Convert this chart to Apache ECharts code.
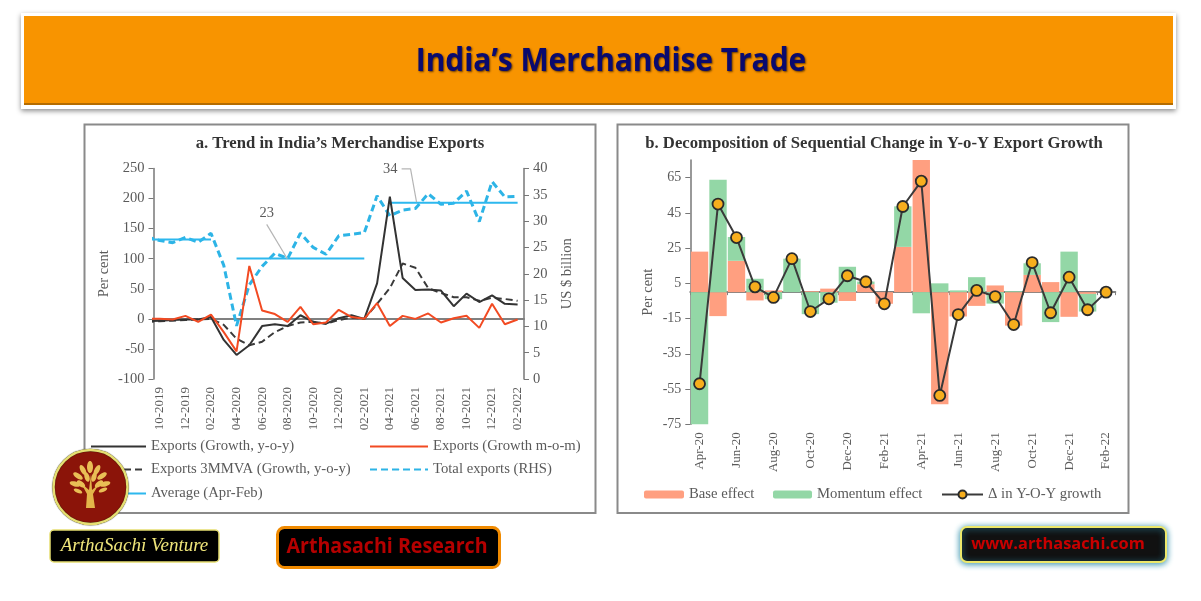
<!DOCTYPE html>
<html>
<head>
<meta charset="utf-8">
<title>India's Merchandise Trade</title>
<script src="https://cdn.jsdelivr.net/npm/echarts@6/dist/echarts.min.js"></script>
<style>
html, body { margin: 0; padding: 0; background: #fff; }
#main { width: 1201px; height: 601px; }
</style>
</head>
<body>
<div id="main"></div>
<script>
// panel a: months, the first value of each series is the Sep-19 lead-in cut off by the axis
const monthsA = ['10-2019','11-2019','12-2019','01-2020','02-2020','03-2020','04-2020','05-2020','06-2020','07-2020','08-2020','09-2020','10-2020','11-2020','12-2020','01-2021','02-2021','03-2021','04-2021','05-2021','06-2021','07-2021','08-2021','09-2021','10-2021','11-2021','12-2021','01-2022','02-2022'];
const yoy = [-4,-3,-2,-1,-1,3,-35,-60,-44,-12,-9,-12,6,-5,-8,1,6,0,59,203,68,48,49,47,21,42,28,39,25,24];
const mom = [0,0,-1,5,-5,7,-22,-54,88,14,8,-5,20,-9,-6,15,3,0,26,-12,5,0,9,-6,1,5,-15,25,-9,-1];
const mma = [-5,-4,-3,-2,-1,0,-10,-33,-44,-38,-22,-12,-6,-5,-8,-2,2,0,25,51,92,85,51,43,36,36,30,35,33,30];
const totalExports = [27,26.3,25.9,26.9,26,27.7,21.6,10.1,17.9,21.4,23.9,22.9,27.7,25,23.7,27.2,27.5,27.8,34.8,31,32.1,32.4,35.2,33.2,33.4,35.7,29.9,37.5,34.6,34.7];
const average = [26.5,26.5,26.5,26.5,26.5,26.5,null,22.9,22.9,22.9,22.9,22.9,22.9,22.9,22.9,22.9,22.9,22.9,null,33.5,33.5,33.5,33.5,33.5,33.5,33.5,33.5,33.5,33.5,33.5];
const leader23X = [8.36, 9.97];
const leader23Y = [157, 100];
const leader34X = [18.92, 19.62, 20.09];
const leader34Y = [249.5, 249.5, 194];

// panel b
const monthsB = ['Apr-20','May-20','Jun-20','Jul-20','Aug-20','Sep-20','Oct-20','Nov-20','Dec-20','Jan-21','Feb-21','Mar-21','Apr-21','May-21','Jun-21','Jul-21','Aug-21','Sep-21','Oct-21','Nov-21','Dec-21','Jan-22','Feb-22'];
const baseEffect = [23,-13.6,17.8,-4.7,1,0,0.5,2,-5,4.5,-6.6,25.7,75,-63.6,-13.8,-7.8,3.8,-19,9.8,5.7,-14,-1,0];
const momentumEffect = [-75,63.8,13.5,7.6,-4,19,-12.5,-6,14.4,1.5,0,23,-12,5,1,8.5,-6.5,0.5,6.6,-17,23,-10,0];
const yoyChange = [-52,50,31,3,-3,19,-11,-3.8,9.3,5.9,-6.6,48.6,63,-58.6,-12.7,1,-2.5,-18.4,16.8,-11.7,8.5,-10,0];
const ticksB = [-75,-55,-35,-15,5,25,45,65];

const SERIF = '"Liberation Serif", serif';
const GREY = '#5a5a5a';
const AXIS = '#777';

const points = arr => arr.map((v, i) => [i - 1, v]);

const lineSeries = (name, data, yAxisIndex, color, width, dash) => ({
    name, type: 'line', data: points(data), xAxisIndex: 1, yAxisIndex,
    showSymbol: false, symbol: 'none', smooth: false, clip: true,
    lineStyle: { color, width, type: dash || 'solid' },
    itemStyle: { color }
});

const leader = (xs, ys, text, pos) => ({
    type: 'line', xAxisIndex: 1, yAxisIndex: 0, symbol: 'none', silent: true,
    lineStyle: { color: '#b5b5b5', width: 1.2 },
    data: xs.map((x, i) => ({
        value: [x, ys[i]],
        symbol: i === 0 ? 'circle' : 'none', symbolSize: 0.1,
        label: i === 0
            ? { show: true, formatter: text, position: pos, distance: 4, fontFamily: SERIF, fontSize: 14.5, color: GREY }
            : { show: false }
    }))
});

// itemHeight 1 hides the circle ECharts puts on a symbol-less line's legend icon
const legendItem = (name, left, top, w, h) => ({
    data: [name], left, top, orient: 'horizontal', itemWidth: w, itemHeight: h, itemGap: 0,
    selectedMode: false, padding: 0, z: 4,
    textStyle: { fontFamily: SERIF, fontSize: 14.7, color: GREY }
});

const rect = (x, y, width, height, fill, extra) => Object.assign({
    type: 'rect', shape: { x, y, width, height }, style: { fill }, silent: true
}, extra || {});

const badgeText = (x, y, text, font, fill, scaleX) => ({
    type: 'text', x, y, scaleX: scaleX || 1, silent: true, z: 60,
    style: { text, font, fill, align: 'center', verticalAlign: 'middle' }
});

// tree leaves in the logo: [x, y, rx, ry, rotation]
const leaves = [[90,467,3,6,0],[83,470,2.5,5.5,0.5],[97,470,2.5,5.5,-0.5],[78,476,2.5,5.5,1],[102,476,2.5,5.5,-1],[87,477,2.5,5,0.3],[94,477,2.5,5,-0.3],[75,484,2.5,5.5,1.3],[105,484,2.5,5.5,-1.3],[81,484,2.5,5,0.9],[99,484,2.5,5,-0.9],[78,491,2,4.5,1.2],[103,490,2,4.5,-1.2]];

const graphics = [
    // header
    rect(21, 13, 1155, 96, '#fff', { z: 0, style: { fill: '#fff', shadowBlur: 5, shadowColor: 'rgba(0,0,0,0.45)', shadowOffsetY: 2 } }),
    rect(24, 16, 1149, 89, '#F89400', { z: 0 }),
    rect(24, 103, 1149, 2, '#B56C00', { z: 0 }),
    { type: 'text', x: 611, y: 62, scaleX: 0.905, silent: true, z: 1,
      style: { text: 'India\u2019s Merchandise Trade', font: 'bold 33px "Open Sans", sans-serif', fill: '#0A0A6E',
               align: 'center', verticalAlign: 'middle', textShadowColor: 'rgba(40,20,0,0.7)', textShadowBlur: 2, textShadowOffsetX: 1, textShadowOffsetY: 1 } },
    // panels
    rect(84.5, 124.5, 511, 388.5, '#fff', { z: 0, style: { fill: '#fff', stroke: '#8a8a8a', lineWidth: 2 } }),
    rect(617.5, 124.5, 511, 388.5, '#fff', { z: 0, style: { fill: '#fff', stroke: '#8a8a8a', lineWidth: 2 } }),
    // logo
    { type: 'ellipse', shape: { cx: 90.5, cy: 487, rx: 37, ry: 37 }, silent: true, z: 50,
      style: { fill: '#8B1409', stroke: '#E6DE72', lineWidth: 2.5, shadowBlur: 1, shadowColor: '#000' } },
    { type: 'polygon', shape: { points: [[86,508],[95,508],[93,494],[99,484],[92,490],[91,474],[89,490],[81,483],[87,494]] }, silent: true, z: 51,
      style: { fill: '#E3B54A' } },
    ...leaves.map(l => ({ type: 'ellipse', shape: { cx: 0, cy: 0, rx: l[2], ry: l[3] }, x: l[0], y: l[1], rotation: l[4], silent: true, z: 51, style: { fill: '#E9BE55' } })),
    // badges
    rect(50, 530, 169, 32, '#000', { z: 50, shape: { x: 50, y: 530, width: 169, height: 32, r: 4 }, style: { fill: '#000', stroke: '#E6DE72', lineWidth: 1.5 } }),
    badgeText(134.5, 546, 'ArthaSachi Venture', 'italic 19px "Liberation Serif", serif', '#EFE57A'),
    rect(277.5, 527.5, 222, 40, '#000', { z: 50, shape: { x: 277.5, y: 527.5, width: 222, height: 40, r: 7 }, style: { fill: '#000', stroke: '#F08A00', lineWidth: 3 } }),
    badgeText(387, 547, 'Arthasachi Research', 'bold 21px "Open Sans", sans-serif', '#B40000', 0.935),
    rect(961, 527, 205, 35, '#111', { z: 50, shape: { x: 961, y: 527, width: 205, height: 35, r: 6 }, style: { fill: '#111', stroke: '#EDE86A', lineWidth: 2, shadowBlur: 6, shadowColor: '#2A8CA8', shadowOffsetY: 1 } }),
    badgeText(1058, 544, 'www.arthasachi.com', 'bold 16.4px "Open Sans", sans-serif', '#C80000')
];

const option = {
    animation: false,
    backgroundColor: '#fff',
    title: [
        { text: 'a. Trend in India\u2019s Merchandise Exports', left: 340, top: 135, textAlign: 'center', padding: 0,
          textStyle: { fontFamily: SERIF, fontWeight: 'bold', fontSize: 16.7, color: '#333' } },
        { text: 'b. Decomposition of Sequential Change in Y-o-Y Export Growth', left: 874, top: 135, textAlign: 'center', padding: 0,
          textStyle: { fontFamily: SERIF, fontWeight: 'bold', fontSize: 16.7, color: '#333' } }
    ],
    grid: [
        { left: 153.5, top: 168.5, width: 370.5, height: 210.5 },
        { left: 690.3, top: 160, width: 425, height: 264.3 }
    ],
    xAxis: [
        { gridIndex: 0, type: 'category', data: monthsA, position: 'bottom', boundaryGap: true,
          axisLine: { show: false, onZero: false }, axisTick: { show: false },
          axisLabel: { interval: 1, rotate: 90, fontFamily: SERIF, fontSize: 13, color: GREY, margin: 8 } },
        { gridIndex: 0, type: 'value', min: -0.5, max: 28.5, position: 'bottom', splitLine: { show: false },
          axisLine: { show: true, onZero: true, onZeroAxisIndex: 0, lineStyle: { color: '#808080', width: 2 } },
          axisTick: { show: false }, axisLabel: { show: false } },
        { gridIndex: 1, type: 'category', data: monthsB, position: 'bottom',
          axisLine: { show: false, onZero: false }, axisTick: { show: false },
          axisLabel: { interval: 1, rotate: 90, fontFamily: SERIF, fontSize: 13, color: GREY, margin: 8 } },
        { gridIndex: 1, type: 'category', data: monthsB, position: 'bottom',
          axisLine: { show: true, onZero: true, lineStyle: { color: '#808080', width: 2 } },
          axisTick: { show: true, interval: 1, length: 3, lineStyle: { color: '#808080' } }, axisLabel: { show: false } }
    ],
    yAxis: [
        { gridIndex: 0, type: 'value', min: -100, max: 250, interval: 50, position: 'left',
          name: 'Per cent', nameLocation: 'middle', nameGap: 42, nameRotate: 90,
          nameTextStyle: { fontFamily: SERIF, fontSize: 14.5, color: GREY },
          splitLine: { show: false },
          axisLine: { show: true, onZero: false, lineStyle: { color: AXIS, width: 1.5 } },
          axisTick: { show: true, length: 5, lineStyle: { color: AXIS } },
          axisLabel: { fontFamily: SERIF, fontSize: 14.5, color: GREY, margin: 9 } },
        { gridIndex: 0, type: 'value', min: 0, max: 40, interval: 5, position: 'right',
          name: 'US $ billion', nameLocation: 'middle', nameGap: 36, nameRotate: 90,
          nameTextStyle: { fontFamily: SERIF, fontSize: 14.5, color: GREY },
          splitLine: { show: false },
          axisLine: { show: true, onZero: false, lineStyle: { color: AXIS, width: 1.5 } },
          axisTick: { show: true, length: 5, lineStyle: { color: AXIS } },
          axisLabel: { fontFamily: SERIF, fontSize: 14.5, color: GREY, margin: 9 } },
        { gridIndex: 1, type: 'value', min: -75, max: 75, position: 'left',
          name: 'Per cent', nameLocation: 'middle', nameGap: 35, nameRotate: 90,
          nameTextStyle: { fontFamily: SERIF, fontSize: 14.5, color: GREY },
          splitLine: { show: false },
          axisLine: { show: true, onZero: false, lineStyle: { color: AXIS, width: 1.5 } },
          axisTick: { show: true, length: 5, customValues: ticksB, lineStyle: { color: AXIS } },
          axisLabel: { customValues: ticksB, fontFamily: SERIF, fontSize: 14, color: GREY, margin: 9 } }
    ],
    legend: [
        legendItem('Exports (Growth, y-o-y)', 90, 439, 55, 1),
        legendItem('Exports (Growth m-o-m)', 369, 439, 58, 1),
        legendItem('Exports 3MMVA (Growth, y-o-y)', 90, 462, 55, 1),
        legendItem('Total exports (RHS)', 369, 462, 58, 1),
        legendItem('Average (Apr-Feb)', 90, 486, 55, 1),
        legendItem('Base effect', 644, 487, 40, 8),
        legendItem('Momentum effect', 773, 487, 39, 8),
        legendItem('\u0394 in Y-O-Y growth', 941, 487, 41, 10)
    ],
    series: [
        lineSeries('Total exports (RHS)', totalExports, 1, '#2DB4E6', 3, [7, 4]),
        lineSeries('Average (Apr-Feb)', average, 1, '#2DB8EE', 2),
        leader(leader23X, leader23Y, '23', 'top'),
        leader(leader34X, leader34Y, '34', 'left'),
        lineSeries('Exports 3MMVA (Growth, y-o-y)', mma, 0, '#3a3a3a', 2, [7, 4]),
        lineSeries('Exports (Growth, y-o-y)', yoy, 0, '#333', 2),
        lineSeries('Exports (Growth m-o-m)', mom, 0, '#F24A22', 2),
        { name: 'Base effect', type: 'bar', data: baseEffect, xAxisIndex: 2, yAxisIndex: 2, stack: 'effects',
          barCategoryGap: '6%', itemStyle: { color: '#FF9F80' } },
        { name: 'Momentum effect', type: 'bar', data: momentumEffect, xAxisIndex: 2, yAxisIndex: 2, stack: 'effects',
          barCategoryGap: '6%', itemStyle: { color: '#93D7A6' } },
        { name: '\u0394 in Y-O-Y growth', type: 'line', data: yoyChange, xAxisIndex: 2, yAxisIndex: 2, z: 5,
          symbol: 'circle', symbolSize: 11, showSymbol: true,
          lineStyle: { color: '#3a3a3a', width: 2 },
          itemStyle: { color: '#F7AE1D', borderColor: '#2b2b2b', borderWidth: 1.8 } }
    ],
    graphic: { elements: graphics }
};

const chart = echarts.init(document.getElementById('main'));
chart.setOption(option);
</script>
</body>
</html>
